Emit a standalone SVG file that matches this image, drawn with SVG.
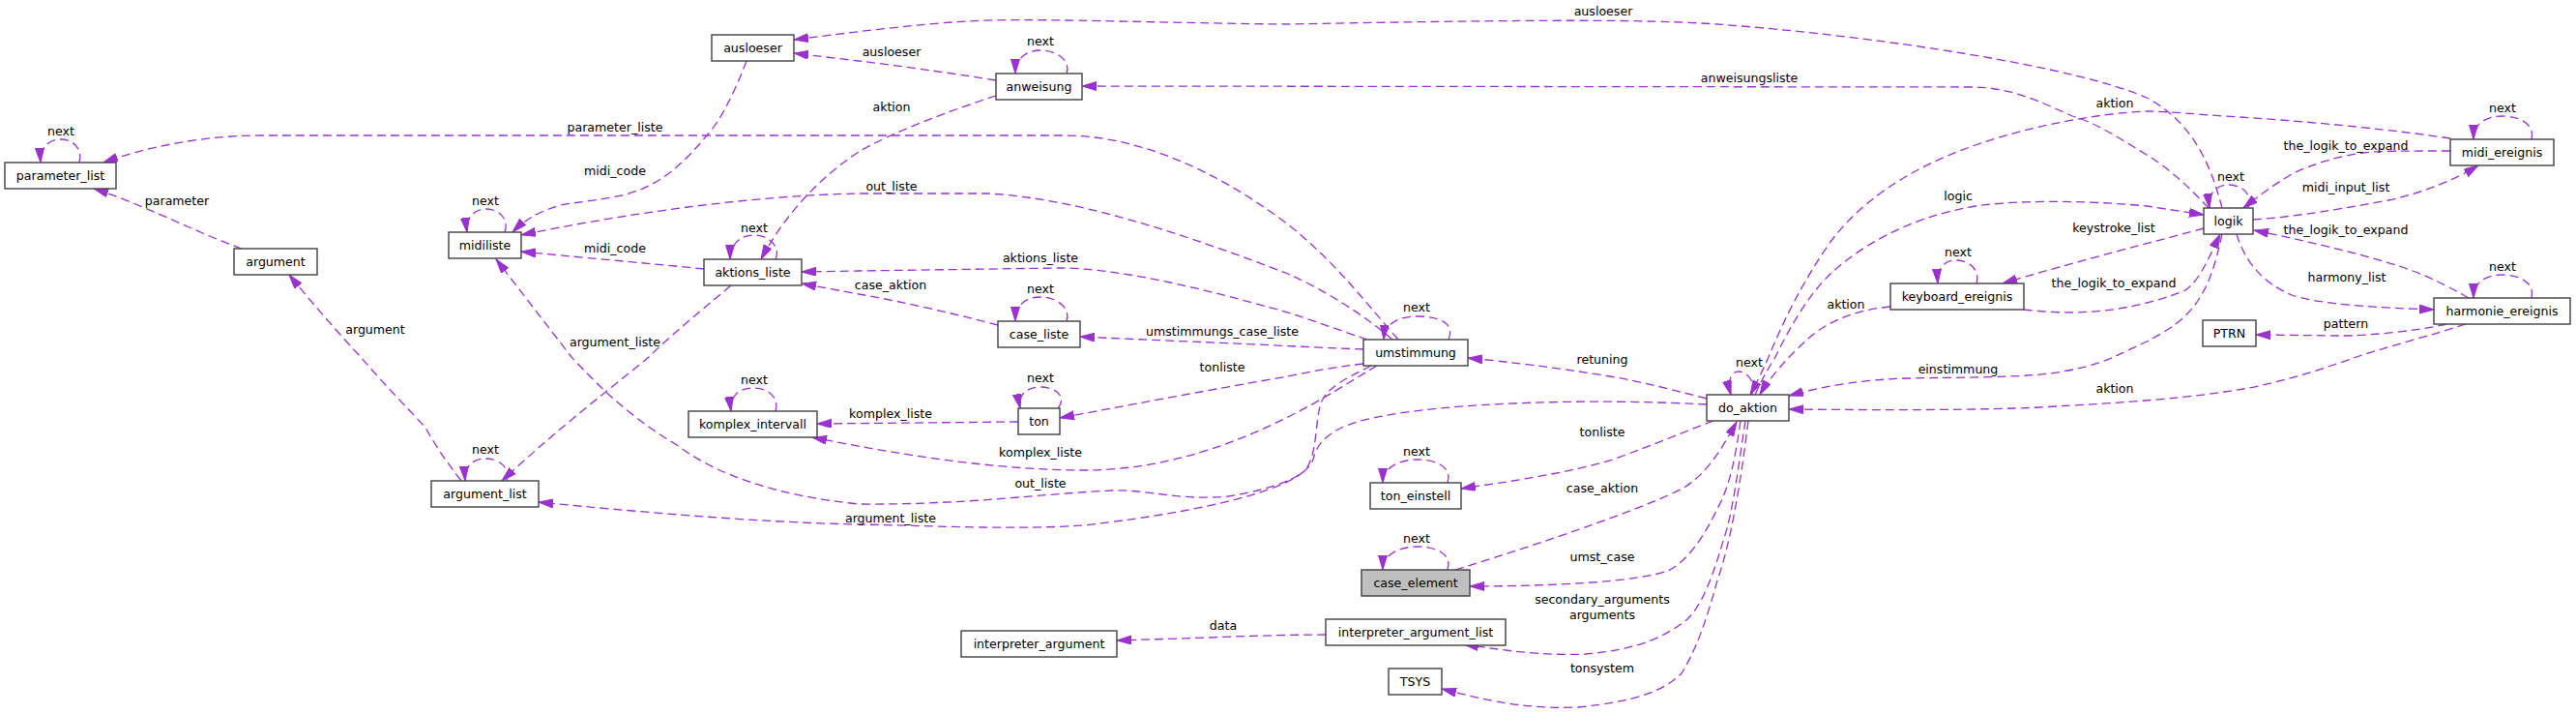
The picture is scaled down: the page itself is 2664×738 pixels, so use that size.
<svg xmlns="http://www.w3.org/2000/svg" width="2664" height="738" viewBox="0 0 2664 738">
<style>
.n rect{fill:#ffffff;stroke:#404040;stroke-width:1.4}
.n.main rect{fill:#bfbfbf}
text{font-family:"DejaVu Sans","Liberation Sans",sans-serif;font-size:12.6px;fill:#000;text-anchor:middle}
.e path{fill:none;stroke:#9a32cd;stroke-width:1.3;stroke-dasharray:9,5;marker-end:url(#ah)}
</style>
<defs>
<marker id="ah" markerUnits="userSpaceOnUse" markerWidth="16" markerHeight="10" refX="15" refY="4.5" orient="auto">
<path d="M0,0 L15,4.5 L0,9 Z" fill="#9a32cd" stroke="#9a32cd" stroke-width="1"/>
</marker>
</defs>
<rect width="2664" height="738" fill="#ffffff"/>
<g id="edges" class="e">
<path d="M1446,351 C1410,310 1380,270 1332,232 C1250,170 1170,140 1100,140 L270,140 C210,140 150,152 107,168"/>
<path d="M1440,351 C1410,325 1370,300 1332,283 C1240,248 1120,205 1021,200 L888,200 C780,202 650,220 539,243"/>
<path d="M1414,351 C1390,343 1360,332 1332,323 C1250,300 1160,277 1095,277 L888,280 L829,281"/>
<path d="M1410,361 C1380,360 1340,358 1300,356 L1160,350 L1117,348"/>
<path d="M1498,351 C1505,335 1490,327 1466,327 C1445,327 1432,335 1431,351"/>
<path d="M1410,376 C1390,378 1360,383 1332,389 C1250,403 1150,422 1096,432"/>
<path d="M1424,378 C1395,395 1370,412 1332,431 C1270,462 1200,486 1121,486 C1030,486 930,470 840,452"/>
<path d="M1053,436 L845,438"/>
<path d="M1418,378 C1395,390 1370,400 1365,420 C1360,440 1362,470 1350,486 C1330,505 1260,527 1121,543 C1050,548 950,543 888,542 C780,540 650,528 557,519"/>
<path d="M1765,418 C1650,412 1500,415 1420,432 C1380,440 1362,455 1358,475 C1352,492 1320,505 1270,513 C1220,518 1190,506 1150,507 C1080,510 1000,522 888,521 C800,512 740,490 700,460 C650,430 620,400 591,369 L513,268"/>
<path d="M756,295 C720,325 690,350 671,369 C640,395 580,440 519,497"/>
<path d="M772,63 C760,95 745,125 731,140 C710,165 690,185 660,197 C630,207 600,208 580,212 C560,218 545,225 530,240"/>
<path d="M728,278 C680,273 620,268 539,260"/>
<path d="M1030,99 C980,115 920,138 888,157 C845,185 810,225 787,268"/>
<path d="M802,268 C808,255 795,243 780,243 C766,243 755,252 755,268"/>
<path d="M522,240 C527,225 515,216 502,216 C490,216 481,226 483,240"/>
<path d="M1030,83 C980,75 930,68 888,63 L821,55"/>
<path d="M2298,215 C2285,165 2265,125 2220,101 C2150,70 1950,38 1776,25 C1700,20 1600,20 1332,25 C1200,24 1060,18 1000,22 C950,25 900,31 821,41"/>
<path d="M1103,76 C1108,62 1092,52 1076,52 C1060,52 1050,62 1050,76"/>
<path d="M2284,215 C2265,195 2245,175 2220,160 C2190,142 2170,128 2143,120 C2110,105 2080,91 2043,90 L1119,89"/>
<path d="M1815,408 C1822,392 1828,382 1836,369 C1850,340 1870,305 1893,283 C1920,258 1970,225 2043,213 C2100,205 2180,209 2220,213 L2279,222"/>
<path d="M2534,143 C2480,135 2400,126 2300,120 C2270,118 2240,115 2220,115 C2170,117 2100,130 2043,150 C1990,168 1930,200 1893,250 C1865,290 1845,330 1829,369 C1822,385 1816,397 1810,408"/>
<path d="M1955,317 C1920,320 1890,332 1870,350 C1850,368 1830,390 1820,408"/>
<path d="M1812,408 C1816,392 1805,384 1798,384 C1790,384 1786,394 1790,408"/>
<path d="M2298,242 C2292,270 2285,295 2270,315 C2255,335 2235,345 2220,353 C2205,360 2195,365 2186,369 C2170,376 2150,382 2120,386 C2080,391 2000,390 1976,391 C1930,392 1890,398 1850,409"/>
<path d="M2279,236 C2250,244 2140,272 2071,293"/>
<path d="M2093,320 C2110,322 2130,323 2143,323 C2180,322 2200,318 2220,313 C2240,308 2255,302 2260,300 C2275,290 2285,265 2296,242"/>
<path d="M2313,242 C2320,265 2335,290 2370,305 C2400,315 2460,318 2517,320"/>
<path d="M2553,308 C2530,295 2510,285 2487,277 C2450,265 2400,252 2331,238"/>
<path d="M2330,227 C2360,225 2400,220 2470,207 C2510,198 2540,185 2563,171"/>
<path d="M2534,156 C2500,156 2470,156 2453,157 C2420,160 2390,170 2370,180 C2350,192 2335,203 2320,215"/>
<path d="M2618,144 C2622,128 2605,120 2588,120 C2570,120 2558,128 2558,144"/>
<path d="M2618,308 C2622,292 2605,284 2588,284 C2570,284 2558,292 2558,308"/>
<path d="M2325,215 C2330,200 2318,191 2305,191 C2292,191 2283,200 2285,215"/>
<path d="M2530,335 C2500,342 2450,347 2420,347 L2333,346"/>
<path d="M2550,335 C2520,345 2470,358 2437,369 C2400,382 2360,395 2320,402 C2260,412 2200,416 2109,421 C2050,424 1950,424 1850,423"/>
<path d="M2044,293 C2048,278 2036,269 2023,269 C2010,269 2003,278 2004,293"/>
<path d="M1765,412 C1730,403 1700,395 1665,389 C1610,380 1560,374 1518,370"/>
<path d="M1772,435 C1750,443 1710,460 1665,476 C1620,489 1560,498 1511,505"/>
<path d="M1505,589 C1600,560 1700,525 1740,505 C1765,490 1780,465 1796,436"/>
<path d="M1800,435 C1795,470 1790,500 1776,526 C1762,555 1745,580 1725,590 C1690,602 1600,606 1520,606"/>
<path d="M1805,435 C1798,480 1792,530 1783,556 C1770,600 1760,625 1745,640 C1720,660 1690,672 1640,676 C1600,678 1560,673 1514,666"/>
<path d="M1808,435 C1800,500 1790,560 1776,600 C1765,640 1755,670 1739,696 C1720,715 1690,725 1632,731 C1580,733 1540,725 1491,712"/>
<path d="M1371,656 C1340,656 1300,657 1250,659 L1155,662"/>
<path d="M1103,332 C1108,318 1092,307 1076,307 C1060,307 1050,316 1050,332"/>
<path d="M1032,336 C990,325 930,311 888,304 L829,293"/>
<path d="M1094,422 C1104,410 1092,400 1076,400 C1062,400 1052,408 1055,422"/>
<path d="M802,425 C806,410 794,401 779,401 C764,401 754,410 756,425"/>
<path d="M524,497 C528,483 516,474 502,474 C488,474 480,483 481,497"/>
<path d="M477,497 C460,475 450,460 440,442 C420,420 395,395 373,369 C355,350 320,310 299,284"/>
<path d="M250,257 C230,250 200,237 180,228 C150,215 120,202 97,195"/>
<path d="M82,168 C86,153 75,144 63,144 C50,144 41,153 42,168"/>
<path d="M1497,499 C1502,484 1487,475 1466,475 C1446,475 1430,484 1430,499"/>
<path d="M1497,589 C1502,574 1487,565 1466,565 C1446,565 1430,574 1430,589"/>
</g>
<g id="labels">
<text x="63" y="140">next</text>
<text x="183" y="212">parameter</text>
<text x="388" y="345">argument</text>
<text x="636" y="136">parameter_liste</text>
<text x="636" y="181">midi_code</text>
<text x="502" y="212">next</text>
<text x="636" y="261">midi_code</text>
<text x="780" y="240">next</text>
<text x="636" y="358">argument_liste</text>
<text x="922" y="58">ausloeser</text>
<text x="1076" y="47">next</text>
<text x="922" y="115">aktion</text>
<text x="922" y="197">out_liste</text>
<text x="1076" y="271">aktions_liste</text>
<text x="921" y="299">case_aktion</text>
<text x="1076" y="303">next</text>
<text x="1264" y="347">umstimmungs_case_liste</text>
<text x="1658" y="16">ausloeser</text>
<text x="1465" y="322">next</text>
<text x="1809" y="85">anweisungsliste</text>
<text x="2187" y="111">aktion</text>
<text x="2025" y="207">logic</text>
<text x="2186" y="240">keystroke_list</text>
<text x="2025" y="265">next</text>
<text x="2186" y="297">the_logik_to_expand</text>
<text x="1909" y="319">aktion</text>
<text x="2588" y="116">next</text>
<text x="2426" y="155">the_logik_to_expand</text>
<text x="2307" y="187">next</text>
<text x="2426" y="198">midi_input_list</text>
<text x="2426" y="242">the_logik_to_expand</text>
<text x="2427" y="291">harmony_list</text>
<text x="2588" y="280">next</text>
<text x="2426" y="339">pattern</text>
<text x="780" y="397">next</text>
<text x="502" y="469">next</text>
<text x="921" y="432">komplex_liste</text>
<text x="1076" y="395">next</text>
<text x="1264" y="384">tonliste</text>
<text x="1076" y="472">komplex_liste</text>
<text x="1076" y="504">out_liste</text>
<text x="921" y="540">argument_liste</text>
<text x="1265" y="651">data</text>
<text x="1657" y="376">retuning</text>
<text x="1657" y="451">tonliste</text>
<text x="1465" y="471">next</text>
<text x="1657" y="509">case_aktion</text>
<text x="1465" y="561">next</text>
<text x="1657" y="580">umst_case</text>
<text x="1657" y="624">secondary_arguments</text>
<text x="1657" y="640">arguments</text>
<text x="1657" y="695">tonsystem</text>
<text x="1809" y="379">next</text>
<text x="2025" y="386">einstimmung</text>
<text x="2187" y="406">aktion</text>
</g>
<g id="parameter_list" class="n"><rect x="5" y="168" width="115" height="27"/><text x="62.5" y="186">parameter_list</text></g>
<g id="argument" class="n"><rect x="242" y="257" width="86" height="27"/><text x="285" y="275">argument</text></g>
<g id="ausloeser" class="n"><rect x="736" y="36" width="85" height="27"/><text x="778.5" y="54">ausloeser</text></g>
<g id="midiliste" class="n"><rect x="464" y="240" width="75" height="27"/><text x="501.5" y="258">midiliste</text></g>
<g id="aktions_liste" class="n"><rect x="728" y="268" width="101" height="27"/><text x="778.5" y="286">aktions_liste</text></g>
<g id="anweisung" class="n"><rect x="1030" y="76" width="89" height="27"/><text x="1074.5" y="94">anweisung</text></g>
<g id="case_liste" class="n"><rect x="1032" y="332" width="85" height="27"/><text x="1074.5" y="350">case_liste</text></g>
<g id="umstimmung" class="n"><rect x="1410" y="351" width="108" height="27"/><text x="1464" y="369">umstimmung</text></g>
<g id="keyboard_ereignis" class="n"><rect x="1955" y="293" width="138" height="27"/><text x="2024" y="311">keyboard_ereignis</text></g>
<g id="logik" class="n"><rect x="2279" y="215" width="51" height="27"/><text x="2304.5" y="233">logik</text></g>
<g id="midi_ereignis" class="n"><rect x="2534" y="144" width="107" height="27"/><text x="2587.5" y="162">midi_ereignis</text></g>
<g id="harmonie_ereignis" class="n"><rect x="2517" y="308" width="141" height="27"/><text x="2587.5" y="326">harmonie_ereignis</text></g>
<g id="PTRN" class="n"><rect x="2278" y="331" width="55" height="27"/><text x="2305.5" y="349">PTRN</text></g>
<g id="komplex_intervall" class="n"><rect x="712" y="425" width="133" height="27"/><text x="778.5" y="443">komplex_intervall</text></g>
<g id="argument_list" class="n"><rect x="446" y="497" width="111" height="27"/><text x="501.5" y="515">argument_list</text></g>
<g id="ton" class="n"><rect x="1053" y="422" width="43" height="27"/><text x="1074.5" y="440">ton</text></g>
<g id="interpreter_argument" class="n"><rect x="994" y="652" width="161" height="27"/><text x="1074.5" y="670">interpreter_argument</text></g>
<g id="do_aktion" class="n"><rect x="1765" y="408" width="85" height="27"/><text x="1807.5" y="426">do_aktion</text></g>
<g id="ton_einstell" class="n"><rect x="1417" y="499" width="94" height="27"/><text x="1464" y="517">ton_einstell</text></g>
<g id="case_element" class="n main"><rect x="1408" y="589" width="112" height="27"/><text x="1464" y="607">case_element</text></g>
<g id="interpreter_argument_list" class="n"><rect x="1371" y="640" width="186" height="27"/><text x="1464" y="658">interpreter_argument_list</text></g>
<g id="TSYS" class="n"><rect x="1436" y="691" width="55" height="27"/><text x="1463.5" y="709">TSYS</text></g>
</svg>
